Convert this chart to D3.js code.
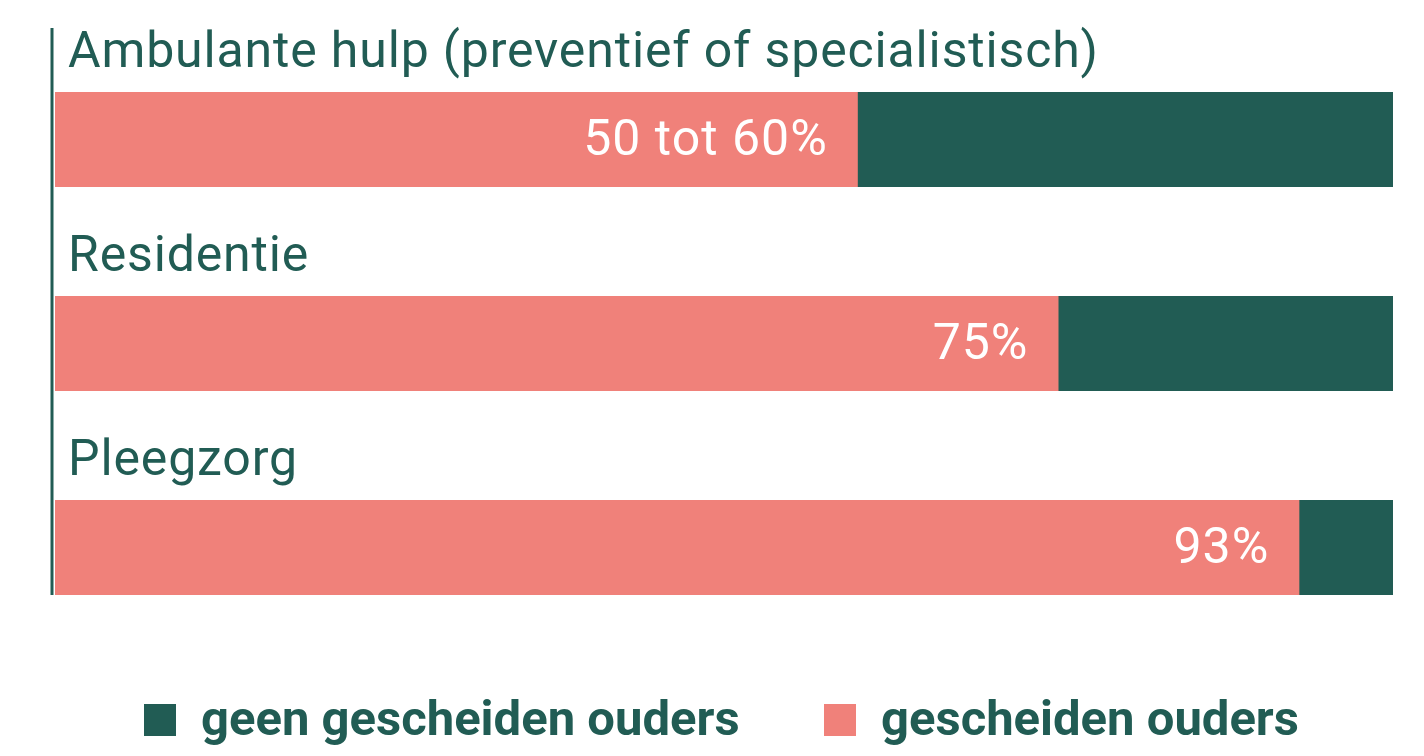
<!DOCTYPE html>
<html lang="nl">
<head>
  <meta charset="utf-8">
  <title>Gescheiden ouders</title>
  <script src="https://d3js.org/d3.v7.min.js"></script>
  <style>
    body { margin: 0; background: #fff; }
    svg { display: block; font-family: Roboto, "Noto Sans", sans-serif; }
  </style>
</head>
<body>
  <svg class="chart"></svg>
  <script>
  // data
  const categories = ["Ambulante hulp (preventief of specialistisch)", "Residentie", "Pleegzorg"];
  const gescheiden = [60, 75, 93];
  const valueLabels = ["50 tot 60%", "75%", "93%"];
  const seriesNames = ["geen gescheiden ouders", "gescheiden ouders"];

  const width = 1424, height = 756;
  const teal = "#215c54", pink = "#f0817a";

  const svg = d3.select(".chart").attr("width", width).attr("height", height);

  const x = d3.scaleLinear().domain([0, 100]).range([55, 1393]);
  const y = d3.scaleBand().domain(categories).range([28, 640]);

  const rows = svg.selectAll("g.row")
    .data(categories.map((c, i) => ({ cat: c, v: gescheiden[i], label: valueLabels[i] })))
    .enter().append("g")
    .attr("class", "row")
    .attr("transform", d => `translate(0, ${y(d.cat)})`);

  // category titles
  rows.append("text")
    .attr("x", 68).attr("y", 39)
    .style("font-size", "50px")
    .style("letter-spacing", "0.85px")
    .style("fill", teal)
    .text(d => d.cat);

  // geen gescheiden (full bar behind)
  rows.append("rect")
    .attr("x", x(0)).attr("y", 64)
    .attr("width", x(100) - x(0)).attr("height", 95)
    .style("fill", teal);

  // gescheiden
  rows.append("rect")
    .attr("x", x(0)).attr("y", 64)
    .attr("width", d => x(d.v) - x(0)).attr("height", 95)
    .style("fill", pink);

  rows.append("text")
    .attr("x", d => x(d.v) - 30).attr("y", 127)
    .attr("text-anchor", "end")
    .style("font-size", "50px")
    .style("letter-spacing", "1px")
    .style("fill", "#fff")
    .text(d => d.label);

  // left axis line
  svg.append("line")
    .attr("x1", 52).attr("x2", 52)
    .attr("y1", 28).attr("y2", y(categories[2]) + 159)
    .style("stroke", teal).style("stroke-width", 3);

  // legend
  const legend = svg.append("g").attr("class", "legend");
  const legX = [144, 824];
  const legColors = [teal, pink];
  seriesNames.forEach((name, i) => {
    legend.append("rect")
      .attr("x", legX[i]).attr("y", 704)
      .attr("width", 32).attr("height", 32)
      .style("fill", legColors[i]);
    legend.append("text")
      .attr("x", legX[i] + 57).attr("y", 735)
      .style("font-size", "49px")
      .style("font-weight", 700)
      .style("fill", teal)
      .text(name);
  });
  </script>
</body>
</html>
